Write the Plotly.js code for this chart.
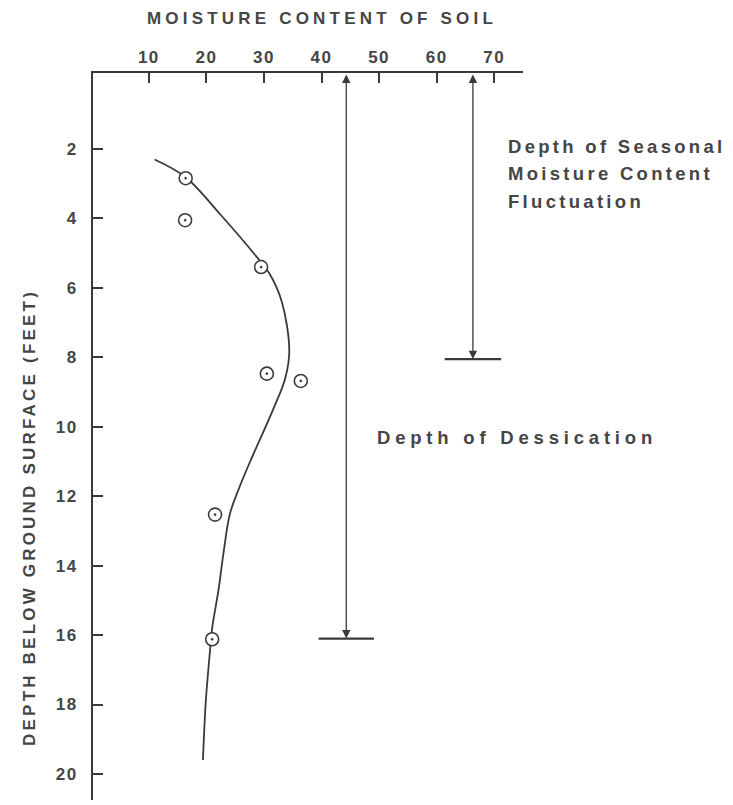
<!DOCTYPE html>
<html>
<head>
<meta charset="utf-8">
<script src="https://cdn.plot.ly/plotly-3.0.1.min.js"></script>
<style>
  html, body { margin: 0; padding: 0; background: #fff; }
  #chart { width: 733px; height: 805px; }
  .annotation-text { letter-spacing: 3.2px; }
  .gtitle { letter-spacing: 4.2px; }
  .xtick text, .ytick text { letter-spacing: 1.5px; }
</style>
</head>
<body>
<div id="chart"></div>
<script>
// Measured moisture content (%) vs depth (ft)
const sampleMoisture = [16.4, 16.3, 29.5, 30.5, 36.4, 21.5, 21.0];
const sampleDepth    = [2.84, 4.05, 5.4, 8.47, 8.68, 12.53, 16.12];

// Hand-drawn trend curve
const curveMoisture = [11.0, 16.3, 22.5, 28.7, 31.0, 33.1, 34.4, 33.7, 31.6, 27.6, 25.6, 24.1, 23.0, 22.1, 21.0, 20.6, 19.9, 19.4];
const curveDepth    = [2.3, 2.8, 3.9, 5.1, 5.6, 6.4, 7.8, 8.6, 9.5, 11.0, 11.8, 12.5, 13.6, 14.7, 15.8, 16.5, 17.9, 19.6];

// Depth zones (arrows)
const zoneLabels = ["Depth of Dessication", "Depth of Seasonal<br>Moisture Content<br>Fluctuation"];
const zoneX      = [44.3, 66.3];
const zoneDepth  = [16.1, 8.05];
const zoneBarHalf = [4.8, 4.9];
const zoneLabelX = [49.3, 72.1];
const zoneLabelY = [10.3, 1.92];
const zoneLetterSpacing = [4.8, 3.3];

const xTicks = [10, 20, 30, 40, 50, 60, 70];
const yTicks = [2, 4, 6, 8, 10, 12, 14, 16, 18, 20];

const xRange = [0.3, 75.0];
const yRange = [20.75, -0.19];

const ink = '#3a3a3a';
const txt = '#454545';
const fontFam = 'Liberation Sans, Arial, sans-serif';

const traces = [
  {
    x: curveMoisture, y: curveDepth, mode: 'lines', type: 'scatter',
    line: { color: ink, width: 1.8, shape: 'spline', smoothing: 1.0 },
    hoverinfo: 'skip', showlegend: false
  },
  {
    x: sampleMoisture, y: sampleDepth, mode: 'markers', type: 'scatter',
    marker: { symbol: 'circle-dot', size: 13, color: '#ffffff', line: { color: ink, width: 1.6 } },
    showlegend: false
  }
];

const annotations = [];
const shapes = [];
for (let i = 0; i < zoneX.length; i++) {
  annotations.push({
    x: zoneX[i], y: zoneDepth[i], xref: 'x', yref: 'y',
    ax: zoneX[i], ay: yRange[1], axref: 'x', ayref: 'y',
    text: '', showarrow: true, arrowside: 'end+start',
    arrowhead: 2, arrowsize: 1.3, arrowwidth: 1.3, arrowcolor: ink,
    standoff: 0, startstandoff: 0
  });
  shapes.push({
    type: 'line', xref: 'x', yref: 'y',
    x0: zoneX[i] - zoneBarHalf[i], x1: zoneX[i] + zoneBarHalf[i],
    y0: zoneDepth[i], y1: zoneDepth[i],
    line: { color: ink, width: 2.2 }
  });
  zoneLabels[i].split('<br>').forEach((line, k) => {
    annotations.push({
      x: zoneLabelX[i], y: zoneLabelY[i], xref: 'x', yref: 'y', yshift: -27.5 * k,
      text: '<b>' + line + '</b>', showarrow: false, xanchor: 'left', yanchor: 'middle', align: 'left',
      font: { family: fontFam, size: 18.5, color: txt }
    });
  });
}
// y-axis title as annotation (positioned off-centre like the original)
annotations.push({
  xref: 'paper', yref: 'paper', x: -0.1465, y: 0.388,
  text: '<b>DEPTH BELOW GROUND SURFACE (FEET)</b>', textangle: -90, showarrow: false,
  xanchor: 'center', yanchor: 'middle',
  font: { family: fontFam, size: 17, color: txt }
});

const layout = {
  width: 733, height: 805,
  margin: { l: 93, r: 210, t: 73, b: 5 },
  paper_bgcolor: '#ffffff', plot_bgcolor: '#ffffff',
  title: {
    text: '<b>MOISTURE CONTENT OF SOIL</b>',
    font: { family: fontFam, size: 17, color: txt },
    x: 322 / 733, xanchor: 'center', y: 1 - 18 / 805, yanchor: 'middle'
  },
  xaxis: {
    side: 'top', range: xRange, tickvals: xTicks, ticktext: xTicks.map(v => '<b>' + v + '</b>'),
    ticks: 'inside', ticklen: 10, tickwidth: 2, tickcolor: ink,
    showline: true, linecolor: ink, linewidth: 2,
    showgrid: false, zeroline: false,
    tickfont: { family: fontFam, size: 17, color: txt },
    ticklabelstandoff: 1
  },
  yaxis: {
    range: yRange, tickvals: yTicks, ticktext: yTicks.map(v => '<b>' + v + '</b>'),
    ticks: 'inside', ticklen: 10, tickwidth: 2, tickcolor: ink,
    showline: true, linecolor: ink, linewidth: 2,
    showgrid: false, zeroline: false,
    tickfont: { family: fontFam, size: 17, color: txt },
    ticklabelstandoff: 10
  },
  annotations: annotations,
  shapes: shapes,
  showlegend: false
};

Plotly.newPlot('chart', traces, layout, { displayModeBar: false, staticPlot: true }).then(gd => {
  const texts = gd.querySelectorAll('.annotation-text');
  texts.forEach(t => {
    const s = t.textContent;
    zoneLabels.forEach((lbl, i) => {
      if (lbl.split('<br>').includes(s)) t.style.letterSpacing = zoneLetterSpacing[i] + 'px';
    });
  });
});
</script>
</body>
</html>
